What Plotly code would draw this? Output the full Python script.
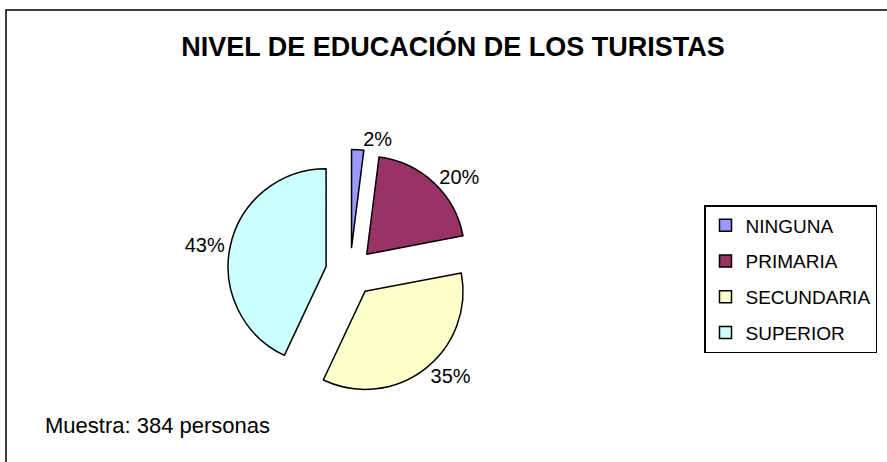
import plotly.graph_objects as go

categories = ["NINGUNA", "PRIMARIA", "SECUNDARIA", "SUPERIOR"]
percent_values = [2, 20, 35, 43]
colors = ["#9999FF", "#993366", "#FFFFCC", "#CCFFFF"]
title_text = "NIVEL DE EDUCACIÓN DE LOS TURISTAS"
note_text = "Muestra: 384 personas"

W, H = 887, 462
FONT = "Arial, Liberation Sans, sans-serif"

fig = go.Figure()

# pie geometry (pixels): center (350, 272), radius ~98, pull 0.25
cx, cy, r, pull = 350, 272, 98, 0.25
half = r * (1 + pull)
fig.add_trace(go.Pie(
    labels=categories,
    values=percent_values,
    sort=False,
    direction="clockwise",
    rotation=0,
    pull=[pull] * len(categories),
    marker=dict(colors=colors, line=dict(color="black", width=1.5)),
    textinfo="percent",
    textposition="outside",
    textfont=dict(family=FONT, size=20, color="black"),
    domain=dict(x=[(cx - half) / W, (cx + half) / W],
                y=[(H - cy - half) / H, (H - cy + half) / H]),
    showlegend=False,
    hoverinfo="label+percent",
))

# legend entries (one group each so spacing can be set)
for name, col in zip(categories, colors):
    fig.add_trace(go.Scatter(
        x=[None], y=[None], mode="markers", name=name,
        legendgroup=name,
        marker=dict(symbol="square", size=12, color=col,
                    line=dict(color="black", width=1.5)),
    ))

fig.update_layout(
    width=W, height=H,
    margin=dict(l=0, r=0, t=0, b=0),
    paper_bgcolor="white",
    plot_bgcolor="white",
    xaxis=dict(visible=False),
    yaxis=dict(visible=False),
    title=dict(text="<b>" + title_text + "</b>", x=453 / W, xanchor="center",
               y=1 - 47 / H, yanchor="middle", xref="paper", yref="container",
               font=dict(family=FONT, size=27, color="black")),
    legend=dict(x=704 / W, xanchor="left", y=1 - 205 / H, yanchor="top",
                bgcolor="white", bordercolor="black", borderwidth=1.5,
                font=dict(family=FONT, size=19, color="black"),
                tracegroupgap=8),
    annotations=[dict(text=note_text, x=43 / W, y=1 - 425 / H, xref="paper",
                      yref="paper", xanchor="left", yanchor="middle",
                      showarrow=False,
                      font=dict(family=FONT, size=22, color="black"))],
    shapes=[dict(type="rect", xref="paper", yref="paper",
                 x0=6 / W, x1=1.02, y0=-0.02, y1=1 - 10 / H,
                 line=dict(color="black", width=1.5), fillcolor="rgba(0,0,0,0)")],
)

fig.write_html("out.html", config={"displayModeBar": False},
               post_script="document.body.style.margin='0px';document.body.style.overflow='hidden';")
